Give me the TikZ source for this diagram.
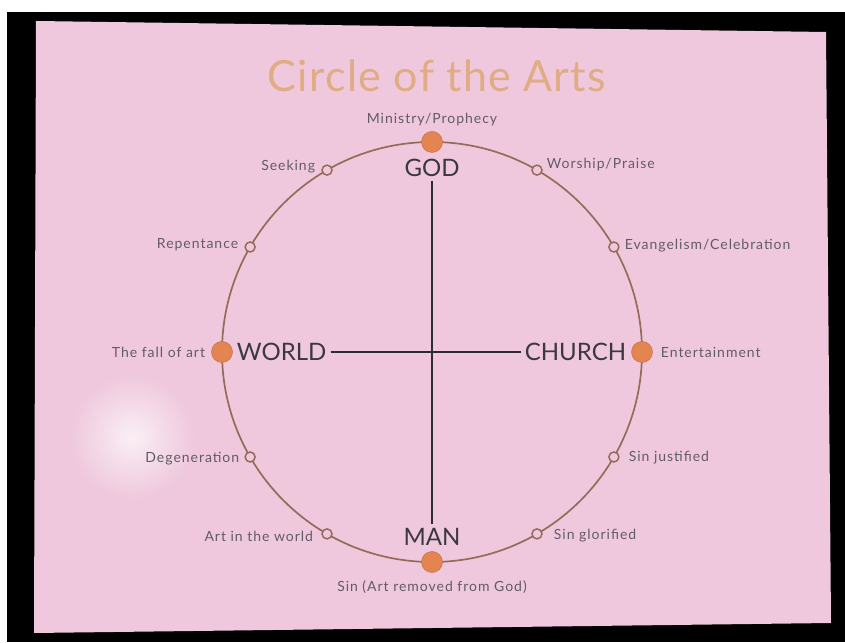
\documentclass[tikz,border=0pt]{standalone}
\usepackage{fontspec}
\setmainfont{Lato}
\newfontfamily\titlefont[LetterSpace=3]{Lato}
\newfontfamily\stagefont[LetterSpace=7]{Lato}
\usepackage{tikz}
\usetikzlibrary{positioning}

\definecolor{slidepink}{RGB}{239,200,221}
\definecolor{titletan}{RGB}{224,172,132}
\definecolor{ringbrown}{RGB}{150,108,88}
\definecolor{dotorange}{RGB}{228,132,80}
\definecolor{labelgray}{RGB}{98,92,104}
\definecolor{polegray}{RGB}{58,56,66}
\definecolor{axisgray}{RGB}{45,42,50}

\begin{document}
\begin{tikzpicture}[
    x=1pt, y=1pt,
    bigdot/.style={circle, fill=dotorange, draw=dotorange!85!black, line width=0.5pt, minimum size=21pt, inner sep=0pt},
    opendot/.style={circle, fill=slidepink, draw=ringbrown, line width=1.5pt, minimum size=10pt, inner sep=0pt},
    pole/.style={font=\fontsize{24}{28}\selectfont, text=polegray, inner sep=4pt},
    stage/.style={font=\stagefont\fontsize{14}{16}\selectfont, text=labelgray, inner sep=2pt},
    axis/.style={draw=axisgray, line width=1.4pt}
]
    \useasboundingbox (0,0) rectangle (845,642);

    % Screen and slide
    \fill[black] (0,0) rectangle (845,642);
    \fill[white] (0,630) rectangle (845,642);
    \fill[white] (0,0) rectangle (7,642);
    \fill[slidepink] (36,621) -- (826,610) -- (831,19) -- (34,9) -- cycle;
    \shade[inner color=white!70!slidepink, outer color=slidepink] (132,205) circle[radius=62];

    % Title
    \node[font=\titlefont\fontsize{43}{48}\selectfont, text=titletan, anchor=base] (title) at (437,550) {Circle of the Arts};

    % Circle
    \coordinate (c) at (432,290);
    \draw[ringbrown, line width=1.7pt] (c) circle[radius=210];

    % Main points
    \node[bigdot] (dgod) at ([shift={(90:210)}]c) {};
    \node[bigdot] (dchurch) at ([shift={(0:210)}]c) {};
    \node[bigdot] (dman) at ([shift={(270:210)}]c) {};
    \node[bigdot] (dworld) at ([shift={(180:210)}]c) {};

    % Stages in between
    \node[opendot] (dworship) at ([shift={(60:210)}]c) {};
    \node[opendot] (devang) at ([shift={(30:210)}]c) {};
    \node[opendot] (djust) at ([shift={(-30:210)}]c) {};
    \node[opendot] (dglor) at ([shift={(-60:210)}]c) {};
    \node[opendot] (dartw) at ([shift={(240:210)}]c) {};
    \node[opendot] (ddegen) at ([shift={(210:210)}]c) {};
    \node[opendot] (drepent) at ([shift={(150:210)}]c) {};
    \node[opendot] (dseek) at ([shift={(120:210)}]c) {};

    % Poles
    \node[pole, below=2pt of dgod] (god) {GOD};
    \node[pole, above=2pt of dman] (man) {MAN};
    \node[pole, right=0pt of dworld] (world) {WORLD};
    \node[pole, left=1pt of dchurch] (church) {CHURCH};

    % Axes
    \draw[axis] (god.south) -- (man.north);
    \draw[axis] (world.east) -- (church.west);

    % Stage labels
    \node[stage, above=3pt of dgod] (ministry) {Ministry/Prophecy};
    \node[stage, right=2pt of dworship, yshift=6pt] (worship) {Worship/Praise};
    \node[stage, right=3pt of devang, yshift=1pt] (evang) {Evangelism/Celebration};
    \node[stage, right=6pt of dchurch] (entert) {Entertainment};
    \node[stage, right=7pt of djust, yshift=-1pt] (justified) {Sin justified};
    \node[stage, right=9pt of dglor, yshift=-2pt] (glorified) {Sin glorified};
    \node[stage, below=6pt of dman] (sin) {Sin (Art removed from God)};
    \node[stage, left=6pt of dartw, yshift=-3pt] (artworld) {Art in the world};
    \node[stage, left=3pt of ddegen, yshift=-2pt] (degen) {Degeneration};
    \node[stage, left=4pt of dworld] (fall) {The fall of art};
    \node[stage, left=4pt of drepent, yshift=2pt] (repent) {Repentance};
    \node[stage, left=4pt of dseek, yshift=4pt] (seek) {Seeking};
\end{tikzpicture}
\end{document}
